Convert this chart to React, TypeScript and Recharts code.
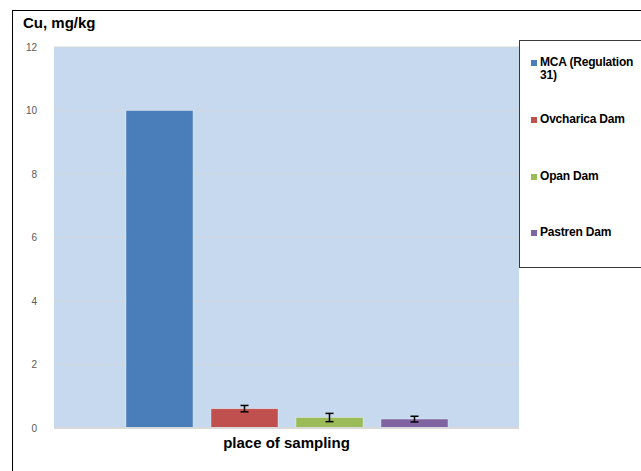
import { BarChart, Bar, XAxis, YAxis, CartesianGrid, ErrorBar } from 'recharts';

// Cu content by sampling site
const sites = ['MCA (Regulation 31)', 'Ovcharica Dam', 'Opan Dam', 'Pastren Dam'];
const keys = ['mca', 'ovcharica', 'opan', 'pastren'];
const values = [10, 0.61, 0.33, 0.28];
const errors = [0, 0.1, 0.13, 0.09];
const colors = ['#4A7EBB', '#C0504D', '#9BBB59', '#8064A2'];
const yTicks = [0, 2, 4, 6, 8, 10, 12];

const row: Record<string, string | number> = { place: 'place of sampling' };
keys.forEach((k, i) => {
  row[k] = values[i];
  row[k + 'Err'] = errors[i];
});
const data = [row];

const font = 'Arial, "Liberation Sans", sans-serif';

function LegendBox() {
  const rowTops = [15, 72, 129, 185];
  return (
    <div
      style={{
        position: 'absolute',
        left: 519,
        top: 40,
        width: 130,
        height: 228,
        border: '1px solid #3a3a3a',
        background: '#fff',
        boxSizing: 'border-box',
        fontFamily: font,
        fontWeight: 'bold',
        fontSize: 12,
        letterSpacing: -0.2,
        color: '#000',
      }}
    >
      {sites.map((s, i) => (
        <div key={s} style={{ position: 'absolute', left: 11, top: rowTops[i], display: 'flex', alignItems: 'flex-start', width: 112 }}>
          <span style={{ display: 'inline-block', width: 6, height: 6, background: colors[i], marginTop: 4, marginRight: 3, flexShrink: 0 }} />
          <span style={{ lineHeight: '13px' }}>{s}</span>
        </div>
      ))}
    </div>
  );
}

export default function App() {
  return (
    <div style={{ position: 'absolute', left: 0, top: 0, width: 641, height: 471, background: '#fff', overflow: 'hidden' }}>
      <BarChart
        width={641}
        height={471}
        data={data}
        margin={{ top: 47, right: 122, left: 0, bottom: 0 }}
        barSize={67}
        barGap={18}
        style={{ position: 'absolute', left: 0, top: 0 }}
      >
        <CartesianGrid vertical={false} fill="#C6D9EE" stroke="#D3D7DC" strokeWidth={1} />
        <XAxis
          dataKey="place"
          tick={false}
          tickLine={false}
          axisLine={{ stroke: '#D9D9D9', strokeWidth: 2 }}
          height={43}
          label={{ value: 'place of sampling', position: 'insideTop', offset: 9, fill: '#000', fontSize: 15, fontWeight: 'bold', fontFamily: font }}
        />
        <YAxis
          domain={[0, 12]}
          ticks={yTicks}
          width={54}
          axisLine={false}
          tickLine={false}
          tickMargin={11}
          tick={{ fill: '#595959', fontSize: 10, fontFamily: font }}
        />
        {keys.map((k, i) => (
          <Bar key={k} dataKey={k} name={sites[i]} fill={colors[i]} stroke="rgba(255,255,255,0.35)" strokeWidth={1} isAnimationActive={false}>
            {errors[i] > 0 && <ErrorBar dataKey={k + 'Err'} width={4} stroke="#000" strokeWidth={1.5} />}
          </Bar>
        ))}
      </BarChart>
      <LegendBox />
      <div style={{ position: 'absolute', left: 12, top: 10, width: 640, height: 470, borderLeft: '1.5px solid #000', borderTop: '1.5px solid #000', pointerEvents: 'none' }} />
      <div style={{ position: 'absolute', left: 23, top: 14, fontFamily: font, fontWeight: 'bold', fontSize: 15, color: '#000' }}>
        Cu, mg/kg
      </div>
    </div>
  );
}
